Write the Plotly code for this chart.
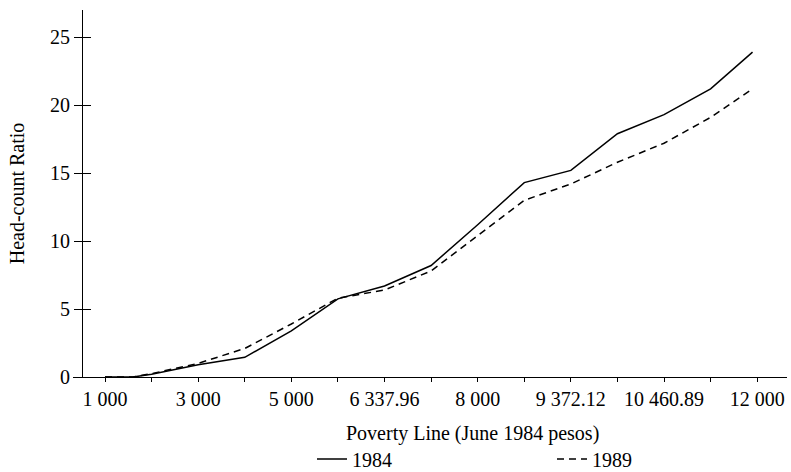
import plotly.graph_objects as go

# Tick labels (evenly spaced categories on the poverty-line axis)
tick_labels = ["1 000", "3 000", "5 000", "6 337.96", "8 000", "9 372.12", "10 460.89", "12 000"]

# Positions along the axis (index units; labelled ticks at even indices)
x_pos = [0, 0.6, 1, 2, 3, 4, 5, 6, 7, 8, 9, 10, 11, 12, 13, 13.9]

# Head-count ratio (%)
hc_1984 = [0, 0, 0.2, 0.9, 1.45, 3.4, 5.75, 6.7, 8.2, 11.2, 14.3, 15.2, 17.9, 19.3, 21.2, 23.9]
hc_1989 = [0, 0, 0.25, 1.0, 2.1, 3.9, 5.8, 6.4, 7.8, 10.4, 13.0, 14.2, 15.8, 17.2, 19.1, 21.2]

y_ticks = [0, 5, 10, 15, 20, 25]

FONT = "Liberation Serif"
FS = 20
W, H = 791, 472
ml, mr, mt, mb = 73, 4, 10, 95
plot_w = W - ml - mr
plot_h = H - mt - mb

fig = go.Figure()
fig.add_trace(go.Scatter(x=x_pos, y=hc_1984, mode="lines", name="1984",
                         line=dict(color="black", width=1.5)))
fig.add_trace(go.Scatter(x=x_pos, y=hc_1989, mode="lines", name="1989",
                         line=dict(color="black", width=1.5, dash="7px,5px")))
# invisible helper trace carrying the inner half of the crossing y ticks
fig.add_trace(go.Scatter(x=x_pos, y=hc_1984, mode="lines", yaxis="y2",
                         line=dict(width=0), showlegend=False, hoverinfo="skip"))

ypos = 9 / plot_w
fig.update_layout(
    width=W, height=H,
    margin=dict(l=ml, r=mr, t=mt, b=mb, autoexpand=False),
    paper_bgcolor="white", plot_bgcolor="white",
    font=dict(family=FONT, size=FS, color="black"),
    xaxis=dict(
        range=[-0.687, 14.64],
        tickmode="array",
        tickvals=[2 * i for i in range(len(tick_labels))],
        ticktext=tick_labels,
        ticks="outside", ticklen=4, tickwidth=1, tickcolor="black",
        minor=dict(dtick=1, tick0=0, ticks="outside", ticklen=4, tickwidth=1, tickcolor="black"),
        showline=True, linecolor="black", linewidth=1,
        showgrid=False, zeroline=False, automargin=False,
        tickfont=dict(family=FONT, size=FS),
        ticklabeloverflow="allow",
    ),
    yaxis=dict(
        range=[0, 27],
        tickvals=y_ticks,
        ticks="outside", ticklen=8, tickwidth=1, tickcolor="black",
        showline=True, linecolor="black", linewidth=1,
        showgrid=False, zeroline=False, automargin=False,
        anchor="free", position=ypos,
        tickfont=dict(family=FONT, size=FS),
        title=dict(text="Head-count Ratio", font=dict(family=FONT, size=FS), standoff=19),
    ),
    yaxis2=dict(
        range=[0, 27], overlaying="y", anchor="free", position=ypos,
        tickvals=y_ticks, ticks="inside", ticklen=8, tickwidth=1, tickcolor="black",
        showticklabels=False, showline=False, showgrid=False, zeroline=False,
        automargin=False,
    ),
    legend=dict(
        orientation="h", x=(312 - ml) / plot_w, xanchor="left",
        y=-82 / plot_h, yanchor="middle",
        font=dict(family=FONT, size=FS),
        entrywidth=195, entrywidthmode="pixels",
        bgcolor="rgba(0,0,0,0)",
    ),
    annotations=[dict(
        text="Poverty Line (June 1984 pesos)", xref="paper", yref="paper",
        x=(472 - ml) / plot_w, y=0, yshift=-56, showarrow=False,
        xanchor="center", yanchor="middle",
        font=dict(family=FONT, size=FS),
    )],
    showlegend=True,
)

fig.write_html(
    "out.html",
    config={"displayModeBar": False},
    post_script="document.body.style.margin='0';document.body.style.overflow='hidden';",
)
